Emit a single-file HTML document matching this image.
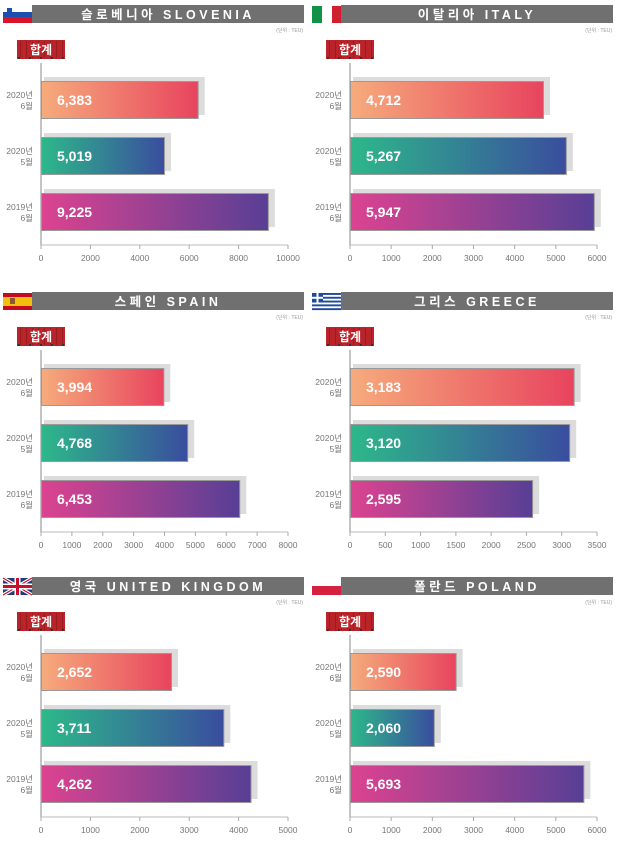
<!DOCTYPE html>
<html><head><meta charset="utf-8"><style>
body{margin:0;background:#fff;width:618px;height:843px;overflow:hidden}
svg text{font-family:"Liberation Sans","Noto Sans CJK KR",sans-serif}
</style></head><body>
<svg id="s" width="618" height="843" xmlns="http://www.w3.org/2000/svg">
<defs>
<linearGradient id="g0"><stop offset="0" stop-color="#f6ab7c"/><stop offset="1" stop-color="#e8445e"/></linearGradient>
<linearGradient id="g1"><stop offset="0" stop-color="#2db88a"/><stop offset="1" stop-color="#3a4d9e"/></linearGradient>
<linearGradient id="g2"><stop offset="0" stop-color="#dc4390"/><stop offset="1" stop-color="#573f95"/></linearGradient>
</defs>
</svg>
<script>
const P=[
{x:0,y:0,t:"슬로베니아 SLOVENIA",v:[6383,5019,9225],max:10000,step:2000,f:"si"},
{x:309,y:0,t:"이탈리아 ITALY",v:[4712,5267,5947],max:6000,step:1000,f:"it"},
{x:0,y:287,t:"스페인 SPAIN",v:[3994,4768,6453],max:8000,step:1000,f:"es"},
{x:309,y:287,t:"그리스 GREECE",v:[3183,3120,2595],max:3500,step:500,f:"gr"},
{x:0,y:572,t:"영국 UNITED KINGDOM",v:[2652,3711,4262],max:5000,step:1000,f:"uk"},
{x:309,y:572,t:"폴란드 POLAND",v:[2590,2060,5693],max:6000,step:1000,f:"pl"}];
let h="";
function flag(f,x,y){let w=29,hh=17;let s="";
if(f=="si")s=`<rect x="${x}" y="${y}" width="${w}" height="6" fill="#fff"/><rect x="${x}" y="${y+6}" width="${w}" height="5" fill="#1d4fb0"/><rect x="${x}" y="${y+11}" width="${w}" height="6" fill="#d7142a"/><rect x="${x+4}" y="${y+2}" width="5" height="6" fill="#1d4fb0"/>`;
if(f=="it")s=`<rect x="${x}" y="${y}" width="10" height="${hh}" fill="#119246"/><rect x="${x+10}" y="${y}" width="10" height="${hh}" fill="#fff"/><rect x="${x+20}" y="${y}" width="9" height="${hh}" fill="#d0202e"/>`;
if(f=="es")s=`<rect x="${x}" y="${y}" width="${w}" height="${hh}" fill="#c60b1e"/><rect x="${x}" y="${y+4}" width="${w}" height="9" fill="#f2c00c"/><rect x="${x+7}" y="${y+5}" width="5" height="6" fill="#8a5a2a"/>`;
if(f=="gr"){s=`<rect x="${x}" y="${y}" width="${w}" height="${hh}" fill="#fff"/>`;for(let i=0;i<9;i+=2)s+=`<rect x="${x}" y="${y+i*1.9}" width="${w}" height="1.9" fill="#1e4a9b"/>`;s+=`<rect x="${x}" y="${y}" width="11" height="9.5" fill="#1e4a9b"/><rect x="${x+4.5}" y="${y}" width="2" height="9.5" fill="#fff"/><rect x="${x}" y="${y+3.8}" width="11" height="2" fill="#fff"/>`;}
if(f=="uk")s=`<rect x="${x}" y="${y}" width="${w}" height="${hh}" fill="#1f3b7a"/><path d="M${x} ${y}L${x+w} ${y+hh}M${x+w} ${y}L${x} ${y+hh}" stroke="#fff" stroke-width="3.5"/><path d="M${x} ${y}L${x+w} ${y+hh}M${x+w} ${y}L${x} ${y+hh}" stroke="#c8102e" stroke-width="1.2"/><rect x="${x+11.5}" y="${y}" width="6" height="${hh}" fill="#fff"/><rect x="${x}" y="${y+5.5}" width="${w}" height="6" fill="#fff"/><rect x="${x+13}" y="${y}" width="3" height="${hh}" fill="#c8102e"/><rect x="${x}" y="${y+7}" width="${w}" height="3" fill="#c8102e"/>`;
if(f=="pl")s=`<rect x="${x}" y="${y}" width="${w}" height="8" fill="#fff"/><rect x="${x}" y="${y+8}" width="${w}" height="9" fill="#d4213d"/>`;
return s;}
const rowsY=[81,137,193],lab=[["2020년","6월"],["2020년","5월"],["2019년","6월"]];
P.forEach(p=>{const X=p.x,Y=p.y;
h+=flag(p.f,X+3,Y+6);
h+=`<rect x="${X+32}" y="${Y+5}" width="${272}" height="18" fill="#707070"/>`;
h+=`<text x="${X+168}" y="${Y+19}" text-anchor="middle" fill="#fff" font-size="12.5" font-weight="bold" letter-spacing="3.5">${p.t}</text>`;
h+=`<text x="${X+303}" y="${Y+32}" text-anchor="end" fill="#999" font-size="5">(단위 : TEU)</text>`;
h+=`<rect x="${X+17}" y="${Y+40}" width="48" height="19" fill="#b8242a"/>`;
for(let i=0;i<8;i++)h+=`<rect x="${X+20+i*6}" y="${Y+41}" width="1" height="17" fill="#9a1b20"/>`;
for(let i=0;i<5;i++)h+=`<rect x="${X+18+i*11}" y="${Y+57}" width="2" height="2" fill="#333"/>`;
h+=`<text x="${X+41}" y="${Y+54}" text-anchor="middle" fill="#fff" font-size="12" font-weight="bold">합계</text>`;
const z=X+41,W=247;
h+=`<line x1="${z}" y1="${Y+63}" x2="${z}" y2="${Y+245}" stroke="#888" stroke-width="1"/>`;
h+=`<line x1="${z}" y1="${Y+245}" x2="${z+W}" y2="${Y+245}" stroke="#bbb" stroke-width="1"/>`;
for(let v=0;v<=p.max;v+=p.step){const tx=z+v/p.max*W;h+=`<line x1="${tx}" y1="${Y+245}" x2="${tx}" y2="${Y+249}" stroke="#aaa"/><text x="${tx}" y="${Y+261}" text-anchor="middle" fill="#777" font-size="8.5">${v}</text>`;}
p.v.forEach((v,i)=>{const by=Y+rowsY[i],bw=v/p.max*W;
h+=`<rect x="${z+3}" y="${by-4}" width="${bw+3}" height="38" fill="#dcdcdc"/>`;
h+=`<rect x="${z+0.5}" y="${by+0.5}" width="${bw-1}" height="37" fill="url(#g${i})" stroke="#999" stroke-width="1"/>`;
h+=`<text x="${z+16}" y="${by+24}" fill="#fff" font-size="14" font-weight="bold">${v.toLocaleString("en-US")}</text>`;
h+=`<text x="${X+33}" y="${by+17}" text-anchor="end" fill="#777" font-size="8.5">${lab[i][0]}</text><text x="${X+33}" y="${by+28}" text-anchor="end" fill="#777" font-size="8.5">${lab[i][1]}</text>`;});
});
document.getElementById("s").insertAdjacentHTML("beforeend",h);
</script>
</body></html>
